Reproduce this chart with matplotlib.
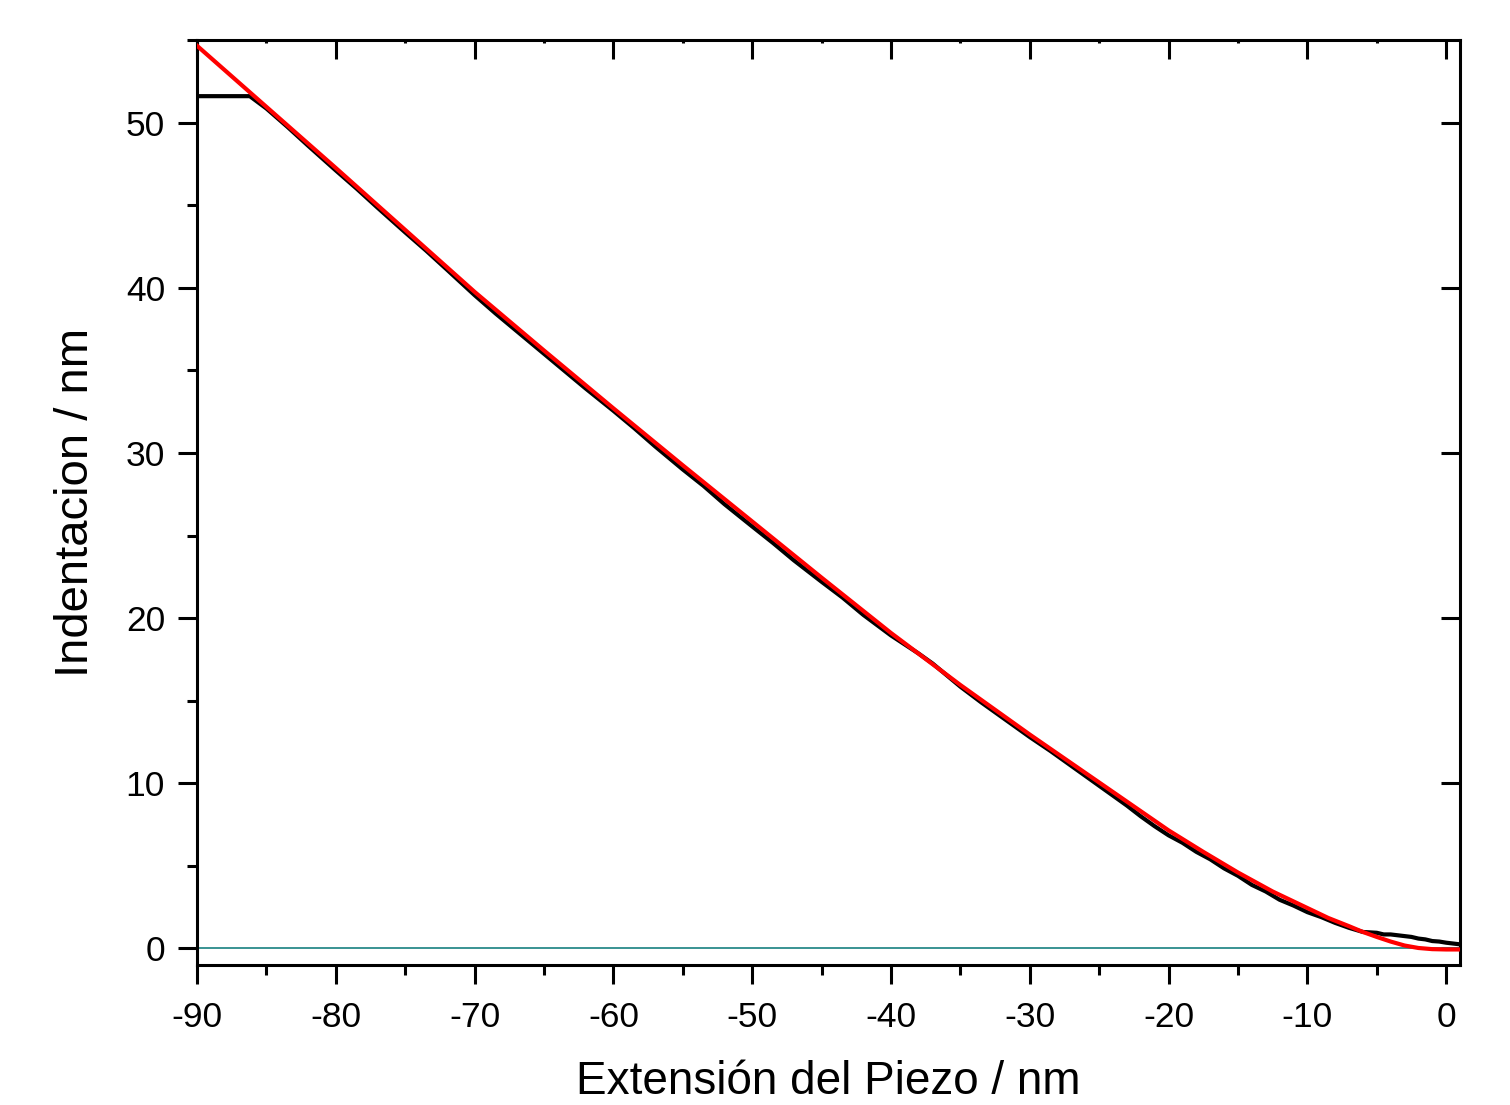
import matplotlib
matplotlib.use("Agg")
import matplotlib.pyplot as plt
from matplotlib.ticker import MultipleLocator

plt.rcParams['font.family'] = ['Liberation Sans', 'DejaVu Sans']
plt.rcParams['axes.unicode_minus'] = False

# measured indentation (black trace)
dataX = [-90, -86.2, -85, -83.5, -82, -80, -78.5, -77, -75, -73.5, -72, -70, -68.5, -67, -65, -63.5,
         -62, -60, -58.5, -57, -55, -53.5, -52, -50, -48.5, -47, -45, -43.5, -42, -40, -38, -37,
         -35, -33.5, -32, -30, -28.5, -27, -25, -24, -23, -22, -21, -20, -19, -18, -17, -16, -15,
         -14, -13, -12, -11, -10, -9, -8, -7, -6, -5, -4.5, -4, -3.5, -3, -2.5, -2, -1.5, -1, -0.5,
         0, 0.5, 1]
dataY = [51.6, 51.6, 50.85, 49.75, 48.6, 47.1, 46.0, 44.85, 43.35, 42.25, 41.1, 39.55, 38.45, 37.4, 36.0, 34.95,
         33.9, 32.55, 31.5, 30.4, 29.0, 28.0, 26.9, 25.55, 24.55, 23.5, 22.2, 21.25, 20.2, 18.95, 17.85, 17.25,
         15.85, 14.9, 14.0, 12.8, 11.95, 11.05, 9.85, 9.25, 8.65, 8.0, 7.4, 6.85, 6.4, 5.85, 5.4, 4.85, 4.4,
         3.85, 3.45, 2.95, 2.6, 2.2, 1.9, 1.55, 1.25, 1.0, 0.95, 0.85, 0.85, 0.8, 0.75, 0.7, 0.6, 0.55, 0.45, 0.42,
         0.35, 0.3, 0.25]

# fitted curve (red)
fitX = [-90, -85, -80, -75, -70, -65, -60, -55, -50, -45, -40, -35, -30, -25, -20, -17.5, -15,
        -12.5, -10, -8.5, -7, -6, -5, -4, -3, -2, -1, 0, 1]
fitY = [54.65, 50.95, 47.25, 43.5, 39.75, 36.2, 32.7, 29.25, 25.85, 22.45, 19.1, 15.95, 12.95, 10.05, 7.15,
        5.85, 4.6, 3.45, 2.45, 1.85, 1.35, 1.0, 0.7, 0.42, 0.18, 0.03, -0.04, -0.06, -0.06]

fig = plt.figure(figsize=(15.1, 11.05), dpi=100)
ax = fig.add_axes([0.1305, 0.1267, 0.8364, 0.8371])

ax.axhline(0, color='#2a8a8a', lw=1.3, zorder=1)
ax.plot(dataX, dataY, color='black', lw=3.0, zorder=2)
ax.plot(fitX, fitY, color='#ff0000', lw=3.0, zorder=3)

ax.set_xlim(-90, 1)
ax.set_ylim(-1, 55)

ax.xaxis.set_major_locator(MultipleLocator(10))
ax.xaxis.set_minor_locator(MultipleLocator(5))
ax.yaxis.set_major_locator(MultipleLocator(10))
ax.yaxis.set_minor_locator(MultipleLocator(5))

for s in ax.spines.values():
    s.set_linewidth(2.2)

ax.tick_params(which='major', direction='out', length=14, width=2.2, labelsize=25.5, pad=9)
ax.tick_params(which='minor', direction='out', length=7, width=2.2)
ax.tick_params(axis='x', which='major', pad=12)

# inward ticks on top and right
axt = ax.secondary_xaxis('top')
axt.xaxis.set_major_locator(MultipleLocator(10))
axt.tick_params(direction='in', length=14, width=2.2, labeltop=False)
axt.xaxis.set_minor_locator(MultipleLocator(5))
axt.tick_params(which='minor', direction='in', length=2, width=2.2)
axr = ax.secondary_yaxis('right')
axr.yaxis.set_major_locator(MultipleLocator(10))
axr.tick_params(direction='in', length=14, width=2.2, labelright=False)

ax.set_xlabel('Extensión del Piezo / nm', fontsize=33, labelpad=19)
ax.set_ylabel('Indentacion / nm', fontsize=34, labelpad=20)

fig.savefig('out.png', dpi=100)
